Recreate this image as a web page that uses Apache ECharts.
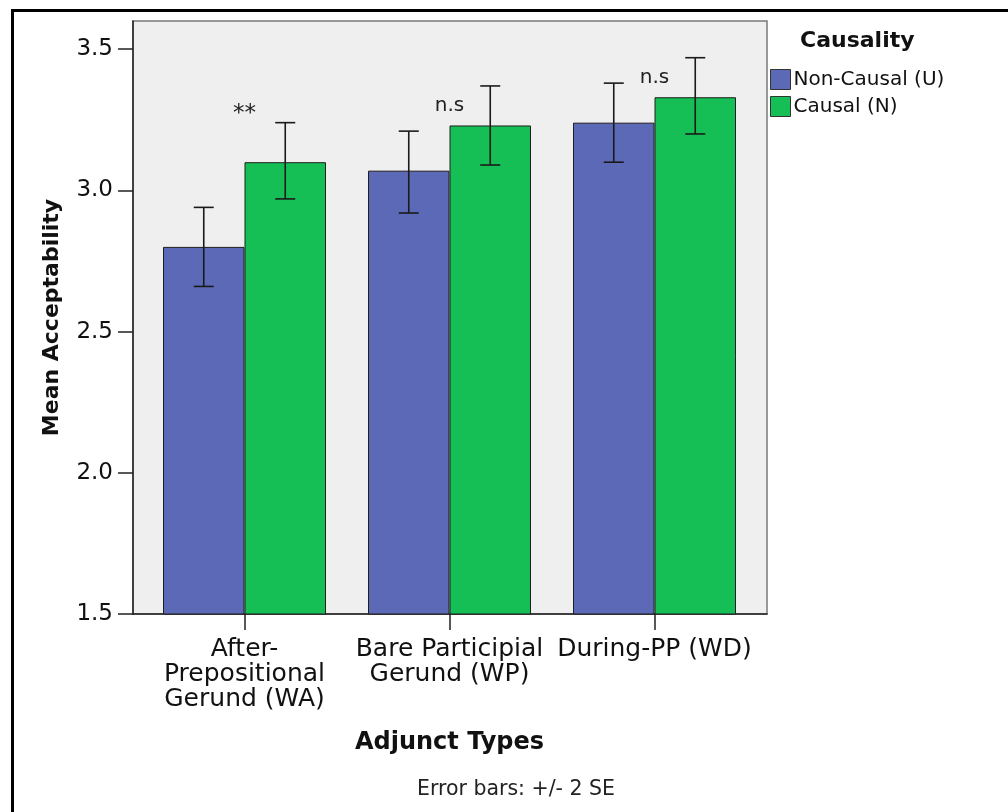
<!DOCTYPE html>
<html>
<head>
<meta charset="utf-8">
<script src="https://cdn.jsdelivr.net/npm/echarts@6/dist/echarts.min.js"></script>
<style>
  html, body { margin: 0; padding: 0; background: #fff; }
  #chart { width: 1008px; height: 812px; }
</style>
</head>
<body>
<div id="chart"></div>
<script>
// data
const categories = ['After-\nPrepositional\nGerund (WA)', 'Bare Participial\nGerund (WP)', 'During-PP (WD)'];
const seriesNames = ['Non-Causal (U)', 'Causal (N)'];
const nonCausalMean = [2.80, 3.07, 3.24];
const causalMean = [3.10, 3.23, 3.33];
const nonCausalLow = [2.66, 2.92, 3.10];
const nonCausalHigh = [2.94, 3.21, 3.38];
const causalLow = [2.97, 3.09, 3.20];
const causalHigh = [3.24, 3.37, 3.47];
const sigLabels = ['**', 'n.s', 'n.s'];
const sigY = [3.27, 3.30, 3.40];
const yTicks = [1.5, 2.0, 2.5, 3.0, 3.5];

const FONT = 'DejaVu Sans';
const CAT_GAP = 0.205;
const blue = '#5c69b7';
const green = '#16be56';

const errData = [];
for (let i = 0; i < categories.length; i++) {
  errData.push([i, nonCausalLow[i], nonCausalHigh[i], 0]);
  errData.push([i, causalLow[i], causalHigh[i], 1]);
}

function renderErr(params, api) {
  const i = api.value(0);
  const s = api.value(3);
  const band = api.size([1, 0])[0];
  const barW = band * (1 - CAT_GAP) / 2;
  const hi = api.coord([i, api.value(2)]);
  const lo = api.coord([i, api.value(1)]);
  const x = hi[0] + (s === 0 ? -barW / 2 : barW / 2);
  const st = { stroke: '#1a1a1a', lineWidth: 1.6 };
  return {
    type: 'group',
    children: [
      { type: 'line', shape: { x1: x, y1: hi[1], x2: x, y2: lo[1] }, style: st },
      { type: 'line', shape: { x1: x - 10, y1: hi[1], x2: x + 10, y2: hi[1] }, style: st },
      { type: 'line', shape: { x1: x - 10, y1: lo[1], x2: x + 10, y2: lo[1] }, style: st }
    ]
  };
}

function renderSig(params, api) {
  const p = api.coord([api.value(0), api.value(1)]);
  const txt = sigLabels[params.dataIndex];
  return {
    type: 'text',
    x: p[0],
    y: p[1],
    style: {
      text: txt,
      fontFamily: FONT,
      fontSize: txt === '**' ? 23 : 20,
      fill: '#222',
      align: 'center',
      verticalAlign: 'middle'
    }
  };
}

const chart = echarts.init(document.getElementById('chart'));

const option = {
  backgroundColor: '#fff',
  animation: false,
  textStyle: { fontFamily: FONT },
  title: {
    text: 'Causality',
    left: 800,
    top: 30,
    padding: 0,
    textStyle: { fontFamily: FONT, fontSize: 22, fontWeight: 'bold', color: '#111' }
  },
  legend: {
    orient: 'vertical',
    left: 770,
    top: 69,
    padding: 0,
    itemWidth: 20,
    itemHeight: 20,
    itemGap: 6,
    icon: 'rect',
    data: seriesNames,
    itemStyle: { borderColor: '#333', borderWidth: 1 },
    textStyle: { fontFamily: FONT, fontSize: 20, color: '#111', padding: [0, 0, 0, -2] }
  },
  grid: [
    { left: 133, top: 21, width: 634, height: 593, show: true, backgroundColor: '#efefef',
      borderColor: '#7a7a7a', borderWidth: 1.5, outerBoundsMode: 'none' },
    { left: 142, top: 21, width: 615, height: 593, outerBoundsMode: 'none' }
  ],
  xAxis: [
    {
      gridIndex: 0, type: 'value', min: 0, max: 1,
      axisLine: { show: true, onZero: false, lineStyle: { color: '#222', width: 1.5 } },
      axisTick: { show: false }, axisLabel: { show: false }, splitLine: { show: false }
    },
    {
      gridIndex: 1, type: 'category', data: categories,
      axisLine: { show: false },
      axisTick: { show: true, alignWithLabel: true, length: 16, lineStyle: { color: '#222', width: 1.5 } },
      axisLabel: { interval: 0, margin: 23, fontFamily: FONT, fontSize: 25, lineHeight: 25, color: '#111' },
      splitLine: { show: false },
      name: 'Adjunct Types',
      nameLocation: 'middle',
      nameGap: 117,
      nameTextStyle: { fontFamily: FONT, fontSize: 24, fontWeight: 'bold', color: '#111' }
    }
  ],
  yAxis: [
    {
      gridIndex: 0, type: 'value', min: 1.5, max: 3.6, interval: 0.5,
      axisLine: { show: true, lineStyle: { color: '#222', width: 1.5 } },
      axisTick: { show: true, length: 15, customValues: yTicks, lineStyle: { color: '#222', width: 1.5 } },
      axisLabel: {
        customValues: yTicks, margin: 20,
        fontFamily: FONT, fontSize: 23, color: '#111',
        formatter: v => v.toFixed(1)
      },
      splitLine: { show: false },
      name: 'Mean Acceptability',
      nameLocation: 'middle',
      nameGap: 70,
      nameTextStyle: { fontFamily: FONT, fontSize: 22, fontWeight: 'bold', color: '#111' }
    },
    {
      gridIndex: 1, type: 'value', min: 1.5, max: 3.6, show: false,
      splitLine: { show: false }
    }
  ],
  series: [
    {
      name: seriesNames[0], type: 'bar', xAxisIndex: 1, yAxisIndex: 1,
      data: nonCausalMean, barGap: '0%', barCategoryGap: (CAT_GAP * 100) + '%',
      itemStyle: { color: blue, borderColor: '#1e1e1e', borderWidth: 1 }
    },
    {
      name: seriesNames[1], type: 'bar', xAxisIndex: 1, yAxisIndex: 1,
      data: causalMean, barGap: '0%', barCategoryGap: (CAT_GAP * 100) + '%',
      itemStyle: { color: green, borderColor: '#1e1e1e', borderWidth: 1 }
    },
    {
      type: 'custom', xAxisIndex: 1, yAxisIndex: 1,
      data: errData, renderItem: renderErr, z: 5,
      encode: { x: 0, y: [1, 2] }
    },
    {
      type: 'custom', xAxisIndex: 1, yAxisIndex: 1,
      data: sigY.map((y, i) => [i, y]), renderItem: renderSig, z: 5,
      encode: { x: 0, y: 1 }
    }
  ],
  graphic: [
    {
      type: 'polyline', silent: true,
      shape: { points: [[12.5, 812], [12.5, 10.5], [1008, 10.5]] },
      style: { stroke: '#000', lineWidth: 3, fill: null }
    },
    {
      type: 'text', x: 516, y: 790, silent: true,
      style: {
        text: 'Error bars: +/- 2 SE', fontFamily: FONT, fontSize: 20.5, fill: '#222',
        align: 'center', verticalAlign: 'middle'
      }
    }
  ]
};

chart.setOption(option);
</script>
</body>
</html>
